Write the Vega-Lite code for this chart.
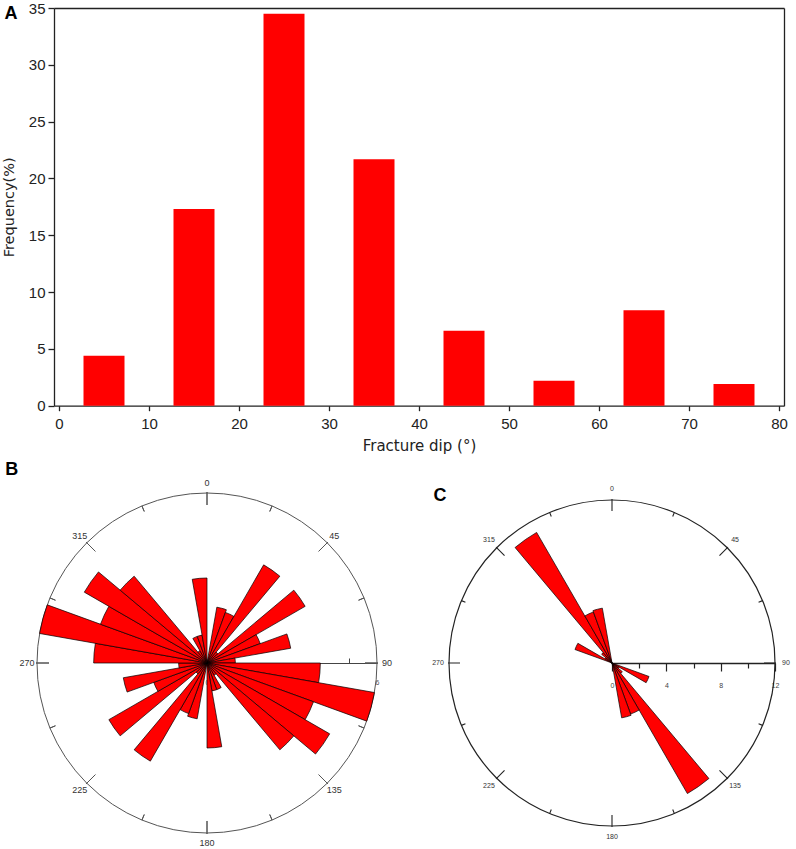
{
  "$schema": "https://vega.github.io/schema/vega-lite/v6.json",
  "width": 796,
  "height": 849,
  "padding": 0,
  "autosize": {"type": "none"},
  "background": "white",
  "config": {
    "view": {"stroke": null},
    "font": "Liberation Sans",
    "axis": {"grid": false}
  },
  "datasets": {
    "hist": [
      {"dip": 5, "freq": 4.4},
      {"dip": 15, "freq": 17.3},
      {"dip": 25, "freq": 34.5},
      {"dip": 35, "freq": 21.7},
      {"dip": 45, "freq": 6.6},
      {"dip": 55, "freq": 2.2},
      {"dip": 65, "freq": 8.4},
      {"dip": 75, "freq": 1.9}
    ],
    "roseB": [
      {"a0": 10, "a1": 20, "n": 2.0},
      {"a0": 20, "a1": 30, "n": 1.9},
      {"a0": 30, "a1": 40, "n": 4.0},
      {"a0": 40, "a1": 50, "n": 0.5},
      {"a0": 50, "a1": 60, "n": 4.0},
      {"a0": 60, "a1": 70, "n": 2.0},
      {"a0": 70, "a1": 80, "n": 3.0},
      {"a0": 80, "a1": 90, "n": 1.0},
      {"a0": 90, "a1": 100, "n": 4.0},
      {"a0": 100, "a1": 110, "n": 6.0},
      {"a0": 110, "a1": 120, "n": 4.0},
      {"a0": 120, "a1": 130, "n": 5.0},
      {"a0": 130, "a1": 140, "n": 4.0},
      {"a0": 140, "a1": 150, "n": 0.5},
      {"a0": 150, "a1": 160, "n": 1.0},
      {"a0": 160, "a1": 170, "n": 1.0},
      {"a0": 170, "a1": 180, "n": 3.0},
      {"a0": 190, "a1": 200, "n": 2.0},
      {"a0": 200, "a1": 210, "n": 1.9},
      {"a0": 210, "a1": 220, "n": 4.0},
      {"a0": 220, "a1": 230, "n": 0.5},
      {"a0": 230, "a1": 240, "n": 4.0},
      {"a0": 240, "a1": 250, "n": 2.0},
      {"a0": 250, "a1": 260, "n": 3.0},
      {"a0": 260, "a1": 270, "n": 1.0},
      {"a0": 270, "a1": 280, "n": 4.0},
      {"a0": 280, "a1": 290, "n": 6.0},
      {"a0": 290, "a1": 300, "n": 4.0},
      {"a0": 300, "a1": 310, "n": 5.0},
      {"a0": 310, "a1": 320, "n": 4.0},
      {"a0": 320, "a1": 330, "n": 0.5},
      {"a0": 330, "a1": 340, "n": 1.0},
      {"a0": 340, "a1": 350, "n": 1.0},
      {"a0": 350, "a1": 360, "n": 3.0}
    ],
    "roseC": [
      {"a0": 110, "a1": 120, "n": 2.9},
      {"a0": 120, "a1": 130, "n": 0.6},
      {"a0": 130, "a1": 140, "n": 1.0},
      {"a0": 140, "a1": 150, "n": 11.1},
      {"a0": 150, "a1": 160, "n": 4.0},
      {"a0": 160, "a1": 170, "n": 4.1},
      {"a0": 290, "a1": 300, "n": 2.9},
      {"a0": 300, "a1": 310, "n": 0.6},
      {"a0": 310, "a1": 320, "n": 1.0},
      {"a0": 320, "a1": 330, "n": 11.1},
      {"a0": 330, "a1": 340, "n": 4.0},
      {"a0": 340, "a1": 350, "n": 4.1}
    ],
    "majorTicks": [
      {"angle": 0, "label": "0"},
      {"angle": 45, "label": "45"},
      {"angle": 90, "label": "90"},
      {"angle": 135, "label": "135"},
      {"angle": 180, "label": "180"},
      {"angle": 225, "label": "225"},
      {"angle": 270, "label": "270"},
      {"angle": 315, "label": "315"}
    ],
    "minorTicks": [
      {"angle": 22.5}, {"angle": 67.5}, {"angle": 112.5}, {"angle": 157.5},
      {"angle": 202.5}, {"angle": 247.5}, {"angle": 292.5}, {"angle": 337.5}
    ],
    "one": [{}]
  },
  "layer": [
    {
      "data": {"name": "hist"},
      "mark": {"type": "bar", "color": "#ff0000", "size": 41},
      "encoding": {
        "x": {
          "field": "dip", "type": "quantitative",
          "scale": {"domain": [0, 80], "range": [54, 784], "nice": false, "zero": false},
          "axis": {"orient": "bottom", "offset": -443.3, "values": [0, 10, 20, 30, 40, 50, 60, 70, 80],
            "tickSize": 5, "tickWidth": 1.3, "tickColor": "#222", "domainColor": "#222", "domainWidth": 1.3,
            "labelFontSize": 15, "labelColor": "#222", "labelPadding": 6, "labelFont": "Liberation Sans",
            "labelFlush": false, "labelOverlap": false,
            "title": "Fracture dip (°)", "titleFontSize": 15, "titleFontWeight": "normal", "titleColor": "#222",
            "titlePadding": 7, "titleFont": "DejaVu Sans", "grid": false}
        },
        "y": {
          "field": "freq", "type": "quantitative",
          "scale": {"domain": [0, 35], "range": [405.7, 8], "nice": false, "zero": true},
          "axis": {"orient": "left", "offset": -54, "values": [0, 5, 10, 15, 20, 25, 30, 35],
            "tickSize": 6, "tickWidth": 1.3, "tickColor": "#222", "domainColor": "#222", "domainWidth": 1.3,
            "labelFontSize": 15, "labelColor": "#222", "labelPadding": 3, "labelFont": "Liberation Sans",
            "labelFlush": false, "labelOverlap": false,
            "title": "Frequency(%)", "titleFontSize": 14.5, "titleFontWeight": "normal", "titleColor": "#222",
            "titlePadding": 12, "titleFont": "DejaVu Sans", "grid": false}
        }
      }
    },
    {
      "data": {"name": "hist"},
      "mark": {"type": "bar", "opacity": 0, "size": 41},
      "encoding": {
        "x": {
          "field": "dip", "type": "quantitative",
          "scale": {"domain": [0, 80], "range": [54, 784], "nice": false, "zero": false},
          "axis": {"orient": "top", "offset": -8, "labels": false, "ticks": false, "domainColor": "#222", "domainWidth": 1.3, "title": null, "grid": false}
        },
        "y": {
          "field": "freq", "type": "quantitative",
          "scale": {"domain": [0, 35], "range": [405.7, 8], "nice": false, "zero": true},
          "axis": {"orient": "right", "offset": -12, "labels": false, "ticks": false, "domainColor": "#222", "domainWidth": 1.3, "title": null, "grid": false}
        }
      }
    },
    {
      "data": {"name": "one"},
      "mark": {"type": "text", "text": "A", "fontSize": 18, "fontWeight": "bold", "font": "Liberation Sans", "fill": "#000", "align": "center", "baseline": "middle"},
      "encoding": {
        "x": {"datum": -4.71, "type": "quantitative", "scale": {"domain": [0, 80], "range": [54, 784], "nice": false, "zero": false}, "axis": null},
        "y": {"datum": 34.47, "type": "quantitative", "scale": {"domain": [0, 35], "range": [405.7, 8], "nice": false, "zero": false}, "axis": null}
      }
    },
    {
      "data": {"name": "one"},
      "mark": {"type": "arc", "filled": false, "stroke": "#555", "strokeWidth": 1},
      "encoding": {
        "x": {"datum": 0, "type": "quantitative", "scale": {"domain": [0, 6], "range": [207, 377], "nice": false, "zero": false}, "axis": null},
        "y": {"datum": 0, "type": "quantitative", "scale": {"domain": [0, 6], "range": [663, 493], "nice": false, "zero": false}, "axis": null},
        "theta": {"datum": 0, "type": "quantitative", "scale": {"domain": [0, 360], "range": [0, 6.283185307179586]}},
        "theta2": {"datum": 360},
        "radius": {"datum": 6, "type": "quantitative", "scale": {"type": "linear", "domain": [0, 6], "range": [0, 170], "zero": true, "nice": false}}
      }
    },
    {
      "data": {"name": "majorTicks"},
      "mark": {"type": "arc", "filled": false, "stroke": "#555", "strokeWidth": 1},
      "encoding": {
        "x": {"datum": 0, "type": "quantitative", "scale": {"domain": [0, 6], "range": [207, 377], "nice": false, "zero": false}, "axis": null},
        "y": {"datum": 0, "type": "quantitative", "scale": {"domain": [0, 6], "range": [663, 493], "nice": false, "zero": false}, "axis": null},
        "theta": {"field": "angle", "type": "quantitative", "stack": null, "scale": {"domain": [0, 360], "range": [0, 6.283185307179586]}},
        "theta2": {"field": "angle"},
        "radius": {"datum": 6.035, "type": "quantitative", "scale": {"type": "linear", "domain": [0, 6], "range": [0, 170], "zero": true, "nice": false}},
        "radius2": {"datum": 5.576}
      }
    },
    {
      "data": {"name": "minorTicks"},
      "mark": {"type": "arc", "filled": false, "stroke": "#555", "strokeWidth": 1},
      "encoding": {
        "x": {"datum": 0, "type": "quantitative", "scale": {"domain": [0, 6], "range": [207, 377], "nice": false, "zero": false}, "axis": null},
        "y": {"datum": 0, "type": "quantitative", "scale": {"domain": [0, 6], "range": [663, 493], "nice": false, "zero": false}, "axis": null},
        "theta": {"field": "angle", "type": "quantitative", "stack": null, "scale": {"domain": [0, 360], "range": [0, 6.283185307179586]}},
        "theta2": {"field": "angle"},
        "radius": {"datum": 6.0, "type": "quantitative", "scale": {"type": "linear", "domain": [0, 6], "range": [0, 170], "zero": true, "nice": false}},
        "radius2": {"datum": 5.79}
      }
    },
    {
      "data": {"name": "majorTicks"},
      "mark": {"type": "text", "fontSize": 9, "fill": "#333", "font": "Liberation Sans", "align": "center", "baseline": "middle"},
      "encoding": {
        "x": {"datum": 0, "type": "quantitative", "scale": {"domain": [0, 6], "range": [207, 377], "nice": false, "zero": false}, "axis": null},
        "y": {"datum": 0, "type": "quantitative", "scale": {"domain": [0, 6], "range": [663, 493], "nice": false, "zero": false}, "axis": null},
        "theta": {"field": "angle", "type": "quantitative", "stack": null, "scale": {"domain": [0, 360], "range": [0, 6.283185307179586]}},
        "radius": {"datum": 6.353, "type": "quantitative", "scale": {"type": "linear", "domain": [0, 6], "range": [0, 170], "zero": true, "nice": false}},
        "text": {"field": "label"}
      }
    },
    {
      "data": {"name": "roseB"},
      "mark": {"type": "point", "opacity": 0},
      "encoding": {
        "x": {"field": "n", "type": "quantitative",
          "scale": {"domain": [0, 6], "range": [207, 377], "nice": false, "zero": false},
          "axis": {"orient": "bottom", "offset": -186, "values": [0, 6], "ticks": false, "tickSize": 0,
            "domain": true, "domainColor": "#444", "domainWidth": 1, "labelFontSize": 7, "labelColor": "#555",
            "labelPadding": 15, "labelFlush": false, "title": null, "grid": false}}
      }
    },
    {
      "data": {"name": "roseB"},
      "mark": {"type": "point", "opacity": 0},
      "encoding": {
        "x": {"field": "n", "type": "quantitative",
          "scale": {"domain": [0, 6], "range": [207, 377], "nice": false, "zero": false},
          "axis": {"orient": "top", "offset": -663, "values": [5], "labels": false, "domain": false,
            "tickSize": 5, "tickColor": "#444", "tickWidth": 1, "title": null, "grid": false}}
      }
    },
    {
      "data": {"name": "roseB"},
      "mark": {"type": "arc", "fill": "#ff0000", "stroke": "#000", "strokeWidth": 0.7},
      "encoding": {
        "x": {"datum": 0, "type": "quantitative", "scale": {"domain": [0, 6], "range": [207, 377], "nice": false, "zero": false}, "axis": null},
        "y": {"datum": 0, "type": "quantitative", "scale": {"domain": [0, 6], "range": [663, 493], "nice": false, "zero": false}, "axis": null},
        "theta": {"field": "a0", "type": "quantitative", "stack": null, "scale": {"domain": [0, 360], "range": [0, 6.283185307179586]}},
        "theta2": {"field": "a1"},
        "radius": {"field": "n", "type": "quantitative", "scale": {"type": "linear", "domain": [0, 6], "range": [0, 170], "zero": true, "nice": false}}
      }
    },
    {
      "data": {"name": "one"},
      "mark": {"type": "text", "text": "B", "fontSize": 18, "fontWeight": "bold", "font": "Liberation Sans", "fill": "#000", "align": "center", "baseline": "middle"},
      "encoding": {
        "x": {"datum": -6.893, "type": "quantitative", "scale": {"domain": [0, 6], "range": [207, 377], "nice": false, "zero": false}, "axis": null},
        "y": {"datum": 6.822, "type": "quantitative", "scale": {"domain": [0, 6], "range": [663, 493], "nice": false, "zero": false}, "axis": null}
      }
    },
    {
      "data": {"name": "one"},
      "mark": {"type": "arc", "filled": false, "stroke": "#222", "strokeWidth": 1.2},
      "encoding": {
        "x": {"datum": 0, "type": "quantitative", "scale": {"domain": [0, 12], "range": [612, 775], "nice": false, "zero": false}, "axis": null},
        "y": {"datum": 0, "type": "quantitative", "scale": {"domain": [0, 12], "range": [663, 500], "nice": false, "zero": false}, "axis": null},
        "theta": {"datum": 0, "type": "quantitative", "scale": {"domain": [0, 360], "range": [0, 6.283185307179586]}},
        "theta2": {"datum": 360},
        "radius": {"datum": 12, "type": "quantitative", "scale": {"type": "linear", "domain": [0, 12], "range": [0, 163], "zero": true, "nice": false}}
      }
    },
    {
      "data": {"name": "majorTicks"},
      "mark": {"type": "arc", "filled": false, "stroke": "#222", "strokeWidth": 1.1},
      "encoding": {
        "x": {"datum": 0, "type": "quantitative", "scale": {"domain": [0, 12], "range": [612, 775], "nice": false, "zero": false}, "axis": null},
        "y": {"datum": 0, "type": "quantitative", "scale": {"domain": [0, 12], "range": [663, 500], "nice": false, "zero": false}, "axis": null},
        "theta": {"field": "angle", "type": "quantitative", "stack": null, "scale": {"domain": [0, 360], "range": [0, 6.283185307179586]}},
        "theta2": {"field": "angle"},
        "radius": {"datum": 12.07, "type": "quantitative", "scale": {"type": "linear", "domain": [0, 12], "range": [0, 163], "zero": true, "nice": false}},
        "radius2": {"datum": 11.19}
      }
    },
    {
      "data": {"name": "minorTicks"},
      "mark": {"type": "arc", "filled": false, "stroke": "#222", "strokeWidth": 1.1},
      "encoding": {
        "x": {"datum": 0, "type": "quantitative", "scale": {"domain": [0, 12], "range": [612, 775], "nice": false, "zero": false}, "axis": null},
        "y": {"datum": 0, "type": "quantitative", "scale": {"domain": [0, 12], "range": [663, 500], "nice": false, "zero": false}, "axis": null},
        "theta": {"field": "angle", "type": "quantitative", "stack": null, "scale": {"domain": [0, 360], "range": [0, 6.283185307179586]}},
        "theta2": {"field": "angle"},
        "radius": {"datum": 12.0, "type": "quantitative", "scale": {"type": "linear", "domain": [0, 12], "range": [0, 163], "zero": true, "nice": false}},
        "radius2": {"datum": 11.68}
      }
    },
    {
      "data": {"name": "majorTicks"},
      "mark": {"type": "text", "fontSize": 7, "fill": "#333", "font": "Liberation Sans", "align": "center", "baseline": "middle"},
      "encoding": {
        "x": {"datum": 0, "type": "quantitative", "scale": {"domain": [0, 12], "range": [612, 775], "nice": false, "zero": false}, "axis": null},
        "y": {"datum": 0, "type": "quantitative", "scale": {"domain": [0, 12], "range": [663, 500], "nice": false, "zero": false}, "axis": null},
        "theta": {"field": "angle", "type": "quantitative", "stack": null, "scale": {"domain": [0, 360], "range": [0, 6.283185307179586]}},
        "radius": {"datum": 12.81, "type": "quantitative", "scale": {"type": "linear", "domain": [0, 12], "range": [0, 163], "zero": true, "nice": false}},
        "text": {"field": "label"}
      }
    },
    {
      "data": {"name": "roseC"},
      "mark": {"type": "point", "opacity": 0},
      "encoding": {
        "x": {"field": "n", "type": "quantitative",
          "scale": {"domain": [0, 12], "range": [612, 775], "nice": false, "zero": false},
          "axis": {"orient": "bottom", "offset": -186, "values": [0, 4, 8, 12], "tickSize": 8, "tickColor": "#222", "tickWidth": 1.2,
            "domain": true, "domainColor": "#222", "domainWidth": 1.3, "labelFontSize": 7, "labelColor": "#444",
            "labelPadding": 10, "labelFlush": false, "title": null, "grid": false}}
      }
    },
    {
      "data": {"name": "roseC"},
      "mark": {"type": "point", "opacity": 0},
      "encoding": {
        "x": {"field": "n", "type": "quantitative",
          "scale": {"domain": [0, 12], "range": [612, 775], "nice": false, "zero": false},
          "axis": {"orient": "bottom", "offset": -186, "values": [2, 6, 10], "labels": false, "domain": false,
            "tickSize": 5, "tickColor": "#222", "tickWidth": 1.2, "title": null, "grid": false}}
      }
    },
    {
      "data": {"name": "roseC"},
      "mark": {"type": "arc", "fill": "#ff0000", "stroke": "#000", "strokeWidth": 0.7},
      "encoding": {
        "x": {"datum": 0, "type": "quantitative", "scale": {"domain": [0, 12], "range": [612, 775], "nice": false, "zero": false}, "axis": null},
        "y": {"datum": 0, "type": "quantitative", "scale": {"domain": [0, 12], "range": [663, 500], "nice": false, "zero": false}, "axis": null},
        "theta": {"field": "a0", "type": "quantitative", "stack": null, "scale": {"domain": [0, 360], "range": [0, 6.283185307179586]}},
        "theta2": {"field": "a1"},
        "radius": {"field": "n", "type": "quantitative", "scale": {"type": "linear", "domain": [0, 12], "range": [0, 163], "zero": true, "nice": false}}
      }
    },
    {
      "data": {"name": "one"},
      "mark": {"type": "text", "text": "C", "fontSize": 18, "fontWeight": "bold", "font": "Liberation Sans", "fill": "#000", "align": "center", "baseline": "middle"},
      "encoding": {
        "x": {"datum": -12.663, "type": "quantitative", "scale": {"domain": [0, 12], "range": [612, 775], "nice": false, "zero": false}, "axis": null},
        "y": {"datum": 12.27, "type": "quantitative", "scale": {"domain": [0, 12], "range": [663, 500], "nice": false, "zero": false}, "axis": null}
      }
    }
  ],
  "resolve": {
    "scale": {"x": "independent", "y": "independent", "theta": "independent", "radius": "independent"},
    "axis": {"x": "independent", "y": "independent"}
  }
}
